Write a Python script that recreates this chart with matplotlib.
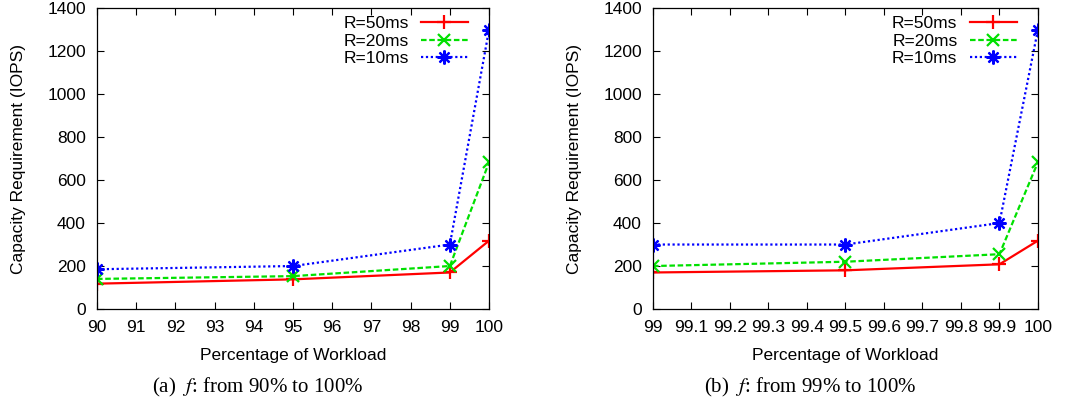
import matplotlib
matplotlib.use('Agg')
import matplotlib.pyplot as plt

plt.rcParams['font.family'] = ['Liberation Sans', 'DejaVu Sans']
plt.rcParams['font.size'] = 12.5
plt.rcParams['mathtext.fontset'] = 'stix'

# ---- data ----
x_a = [90, 95, 99, 100]
r50_a = [118, 138, 170, 318]
r20_a = [140, 153, 200, 683]
r10_a = [185, 200, 300, 1300]

x_b = [99, 99.5, 99.9, 100]
r50_b = [170, 180, 208, 318]
r20_b = [200, 220, 255, 683]
r10_b = [300, 300, 400, 1300]

xticks_a = [90, 91, 92, 93, 94, 95, 96, 97, 98, 99, 100]
xticks_b = [99, 99.1, 99.2, 99.3, 99.4, 99.5, 99.6, 99.7, 99.8, 99.9, 100]
xlabels_b = ['99', '99.1', '99.2', '99.3', '99.4', '99.5', '99.6', '99.7', '99.8', '99.9', '100']
yticks = [0, 200, 400, 600, 800, 1000, 1200, 1400]
labels = ['R=50ms', 'R=20ms', 'R=10ms']
captions = ['(a)  $f$: from 90% to 100%', '(b)  $f$: from 99% to 100%']


def panel(ax, x, r50, r20, r10, xticks, xlabels):
    ax.plot(x, r50, color='#ff0000', linestyle='-', linewidth=1.6,
            marker='+', markersize=10, markeredgewidth=1.6, label=labels[0])
    ax.plot(x, r20, color='#00e000', linestyle=(0, (2.5, 1.2)), linewidth=1.6,
            marker='x', markersize=8, markeredgewidth=1.6, label=labels[1])
    ax.plot(x, r10, color='#0000ff', linestyle=(0, (1, 1.2)), linewidth=1.6,
            marker=(8, 2, 0), markersize=10, markeredgewidth=1.6, label=labels[2])
    ax.set_xlim(xticks[0], xticks[-1])
    ax.set_ylim(0, 1400)
    ax.set_xticks(xticks)
    ax.set_xticklabels(xlabels)
    ax.set_yticks(yticks)
    ax.tick_params(direction='in', top=True, right=True, length=5, width=0.8,
                   labelsize=12.5, pad=8)
    ax.set_xlabel('Percentage of Workload', fontsize=12.5, labelpad=9)
    ax.set_ylabel('Capacity Requirement (IOPS)', fontsize=12.5, labelpad=15)
    for s in ax.spines.values():
        s.set_linewidth(0.9)
    ax.legend(loc='upper right', bbox_to_anchor=(0.985, 1.025), frameon=False,
              markerfirst=False, handlelength=2.7, labelspacing=0.13,
              handletextpad=0.7, fontsize=12.5)


fig = plt.figure(figsize=(10.89, 4.05), dpi=100)
ax1 = fig.add_axes([0.0891, 0.237, 0.360, 0.743])
panel(ax1, x_a, r50_a, r20_a, r10_a, xticks_a, [str(t) for t in xticks_a])
ax2 = fig.add_axes([0.5996, 0.237, 0.3535, 0.743])
panel(ax2, x_b, r50_b, r20_b, r10_b, xticks_b, xlabels_b)

fig.text(0.237, 0.043, captions[0], ha='center', va='center', fontsize=15,
         family=['Liberation Serif', 'DejaVu Serif'])
fig.text(0.744, 0.043, captions[1], ha='center', va='center', fontsize=15,
         family=['Liberation Serif', 'DejaVu Serif'])

plt.savefig('out.png', dpi=100)
